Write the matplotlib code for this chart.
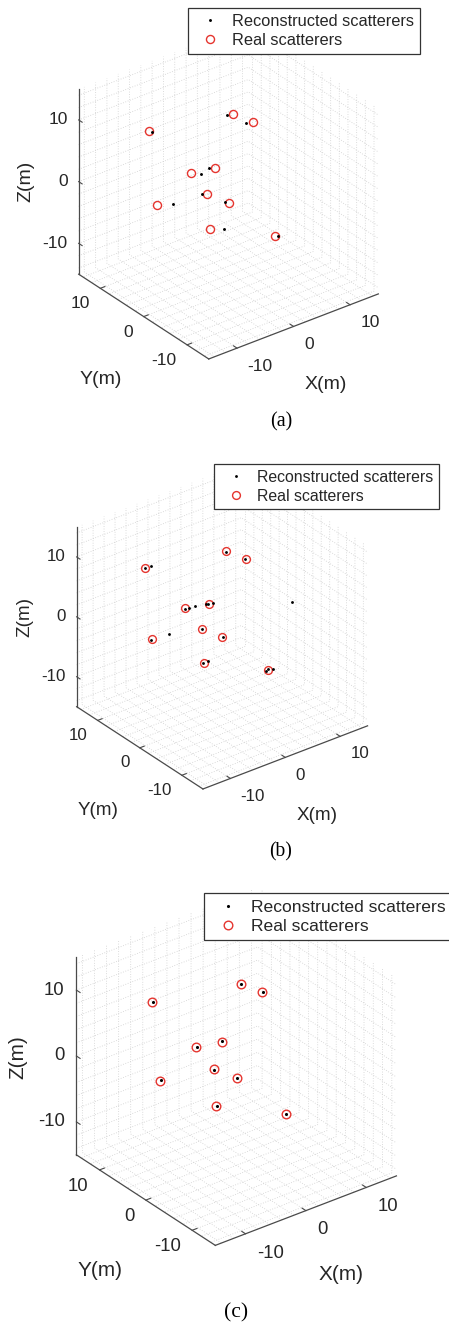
"""
Three 3-D scatterer reconstructions, (a)-(c), stacked in one tall figure.
Reconstructed scatterers (black dots) against the real ones (red circles).
"""
import numpy as np
import matplotlib
matplotlib.use('Agg')
import matplotlib.pyplot as plt
from matplotlib.ticker import NullFormatter
from mpl_toolkits.mplot3d import proj3d

FIG_W, FIG_H, DPI = 449, 1326, 100

# ------------------------------------------------------------------ #
# Data (m)
# ------------------------------------------------------------------ #

real_x = [-6.24, 3.76, 5.67, -3.41, -0.53, -2.47, -8.58, -0.46, -3.70, 3.31]
real_y = [10.11, 3.95, 1.81, 4.26, 2.47, 1.67, 5.41, -0.63, -0.47, -6.49]
real_z = [7.31, 9.39, 8.46, 2.25, 2.83, -0.31, -1.60, -1.34, -4.54, -5.43]

recon_a_x = [-6.03, 3.13, 4.86, -2.27, -1.21, -3.03, -6.77, -0.85, -2.12, 3.57]
recon_a_y = [9.87, 4.36, 2.36, 3.32, 2.99, 2.10, 4.06, -0.30, -1.72, -6.70]
recon_a_z = [7.20, 9.30, 8.37, 2.17, 2.82, -0.30, -1.56, -1.32, -4.60, -5.45]

recon_b_x = [-6.29, -5.51, 3.77, 5.63, -3.45, -3.01, -2.19, -0.87, -0.60, -0.03,
             9.08, -8.72, -6.45, -2.46, -0.41, -3.76, -3.14, 3.09, 3.34, 4.01]
recon_b_y = [10.12, 9.71, 3.91, 1.83, 4.24, 4.01, 3.52, 2.69, 2.50, 2.13,
             -4.77, 5.45, 4.28, 1.65, -0.68, -0.43, -0.74, -6.41, -6.47, -6.93]
recon_b_z = [7.27, 7.53, 9.35, 8.44, 2.18, 2.34, 2.52, 2.77, 2.81, 2.89,
             3.01, -1.71, -0.92, -0.33, -1.37, -4.55, -4.33, -5.55, -5.37, -5.30]

recon_c_x = [-6.17, 3.80, 5.70, -3.32, -0.44, -2.45, -8.39, -0.42, -3.63, 3.23]
recon_c_y = [10.05, 3.94, 1.78, 4.16, 2.43, 1.63, 5.30, -0.65, -0.52, -6.45]
recon_c_z = [7.31, 9.42, 8.46, 2.22, 2.87, -0.35, -1.57, -1.34, -4.54, -5.46]

grid_locs = np.arange(-14, 15, 2)      # minor grid
tick_vals = [-10, 0, 10]               # labelled ticks
labels = ['Reconstructed scatterers', 'Real scatterers']

# layout of each panel, pixels from the top-left of the figure
panels = [
    dict(tag='(a)', k=1.00, recon=(recon_a_x, recon_a_y, recon_a_z),
         origin=(228.5, 191.5), zscale=6.17, legend=(187.7, 8.3),
         caption=(281, 421.7), xlabel=(325.7, 384), ylabel=(101, 379),
         zlabel=(26, 181.7)),
    dict(tag='(b)', k=0.971, recon=(recon_b_x, recon_b_y, recon_b_z),
         origin=(222.1, 626.4), zscale=5.99, legend=(214.3, 464.0),
         caption=(281, 852.3), xlabel=(316.7, 815), ylabel=(98.3, 810),
         zlabel=(25, 616.7)),
    dict(tag='(c)', k=1.068, recon=(recon_c_x, recon_c_y, recon_c_z),
         origin=(236.4, 1066.5), zscale=6.59, legend=(204.0, 893.3),
         caption=(236, 1313.3), xlabel=(340.7, 1275), ylabel=(100, 1270),
         zlabel=(18.3, 1056.7)),
]

LIM = 15
TICK_LEN = 0.8
# tick-label anchors, offset from the axis lines in data units
XLAB_OFF = (2.44, 1.82)   # -y, -z
YLAB_OFF = (1.89, 1.85)   # -x, -z
ZLAB_OFF = (1.22, 0.95)   # -x, +y

plt.rcParams['font.family'] = ['Liberation Sans', 'DejaVu Sans']
plt.rcParams['axes.unicode_minus'] = False
plt.rcParams['grid.color'] = '#cfcfcf'
plt.rcParams['grid.linestyle'] = (0, (1, 2))
plt.rcParams['grid.linewidth'] = 0.6

INK = '#262626'
AXIS = '#4a4a4a'
RED = '#e5352f'


def fx(px):
    return px / FIG_W


def fy(py):
    return 1 - py / FIG_H


def project(ax, p):
    """3-D data point -> display pixels (origin bottom-left)."""
    x2, y2, _ = proj3d.proj_transform(*p, ax.get_proj())
    return ax.transData.transform((x2, y2))


def place_box(fig, ax, origin, zscale):
    """Zoom and shift the 3-D box so that its centre and z scale match."""
    fig.canvas.draw()
    p0, p1 = project(ax, (0, 0, 0)), project(ax, (0, 0, LIM))
    ax.set_box_aspect((1, 1, 1), zoom=zscale * LIM / (p1[1] - p0[1]))

    fig.canvas.draw()
    p0 = project(ax, (0, 0, 0))
    pos = ax.get_position(original=True)
    ax.set_position([pos.x0 + (origin[0] - p0[0]) / FIG_W,
                     pos.y0 + (FIG_H - origin[1] - p0[1]) / FIG_H,
                     pos.width, pos.height])
    fig.canvas.draw()


def draw_panel(fig, lay):
    k = lay['k']
    size = 400
    ox, oy = lay['origin']
    ax = fig.add_axes([fx(ox - size / 2), fy(oy + size / 2), size / FIG_W, size / FIG_H],
                      projection='3d', proj_type='ortho')
    ax.set_facecolor('none')
    ax.view_init(elev=30, azim=-127.5)
    ax.set_box_aspect((1, 1, 1))

    hr, = ax.plot(real_x, real_y, real_z, 'o', ms=5.8 * k, mfc='none',
                  mec=RED, mew=1.0)
    rx, ry, rz = lay['recon']
    hd, = ax.plot(rx, ry, rz, 'o', ms=2.1 * k, mfc='black', mec='black', mew=0)

    for axis, lim in ((ax.xaxis, ax.set_xlim), (ax.yaxis, ax.set_ylim), (ax.zaxis, ax.set_zlim)):
        lim(-LIM, LIM)
        axis.set_ticks(grid_locs)
        axis.set_major_formatter(NullFormatter())
        axis.set_pane_color((1, 1, 1, 0))
        axis.line.set_color(AXIS)
        axis.line.set_linewidth(0.9)
        axis.set_tick_params(color=(0, 0, 0, 0), label1On=False, label2On=False)
        axis.label.set_visible(False)
        axis.offsetText.set_visible(False)
    ax.grid(True)

    # short inward tick marks at the labelled values (MATLAB style)
    for v in tick_vals:
        ax.plot([v, v], [-LIM, -LIM + TICK_LEN], [-LIM, -LIM], color=AXIS, lw=0.8)
        ax.plot([-LIM, -LIM + TICK_LEN], [v, v], [-LIM, -LIM], color=AXIS, lw=0.8)
        ax.plot([-LIM, -LIM], [LIM, LIM - TICK_LEN], [v, v], color=AXIS, lw=0.8)

    place_box(fig, ax, lay['origin'], lay['zscale'])

    # tick labels: projected anchor points, left/right aligned like MATLAB
    to_fig = fig.transFigure.inverted()
    tfs = 12.5 * k
    for v in tick_vals:
        anchors = [((v, -LIM - XLAB_OFF[0], -LIM - XLAB_OFF[1]), 'left'),
                   ((-LIM - YLAB_OFF[0], v, -LIM - YLAB_OFF[1]), 'right'),
                   ((-LIM - ZLAB_OFF[0], LIM + ZLAB_OFF[1], v), 'right')]
        for p, ha in anchors:
            u, w = to_fig.transform(project(ax, p))
            fig.text(u, w, f'{v}', ha=ha, va='center', fontsize=tfs, color=INK)

    # axis titles and caption
    fs = 14 * k
    fig.text(fx(lay['xlabel'][0]), fy(lay['xlabel'][1]), 'X(m)', ha='center', va='center',
             fontsize=fs, color=INK)
    fig.text(fx(lay['ylabel'][0]), fy(lay['ylabel'][1]), 'Y(m)', ha='center', va='center',
             fontsize=fs, color=INK)
    fig.text(fx(lay['zlabel'][0]), fy(lay['zlabel'][1]), 'Z(m)', ha='center', va='center',
             fontsize=fs, color=INK, rotation=90)
    fig.text(fx(lay['caption'][0]), fy(lay['caption'][1]), lay['tag'], ha='center',
             va='center', fontsize=14.5 * k, color='black',
             family=['Liberation Serif', 'DejaVu Serif'])

    lx, ly = lay['legend']
    leg = fig.legend([hd, hr], labels, loc='upper left',
                     bbox_to_anchor=(fx(lx), fy(ly)), bbox_transform=fig.transFigure,
                     fontsize=11.8 * k, frameon=True, fancybox=False, framealpha=1,
                     edgecolor='#333333', borderpad=0.35, labelspacing=0.25,
                     handlelength=2.0, handletextpad=0.35, borderaxespad=0)
    leg.get_frame().set_linewidth(0.9)
    for t in leg.get_texts():
        t.set_color(INK)
    return ax


fig = plt.figure(figsize=(FIG_W / DPI, FIG_H / DPI), dpi=DPI)
fig.patch.set_facecolor('white')
for lay in panels:
    draw_panel(fig, lay)

fig.savefig('out.png', dpi=DPI, facecolor='white')
